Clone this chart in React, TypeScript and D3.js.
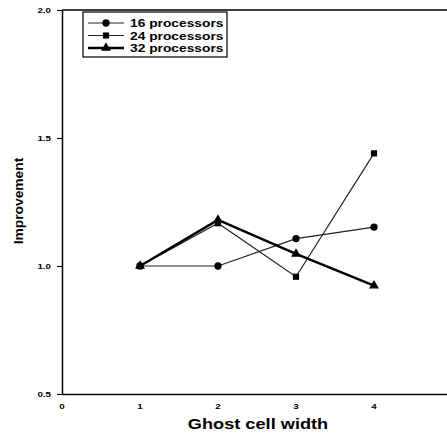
import React, { useEffect, useRef } from 'react';
import * as d3 from 'd3';

const widths = [1, 2, 3, 4];
const p16 = [1.0, 1.0, 1.107, 1.152];
const p24 = [1.0, 1.167, 0.958, 1.44];
const p32 = [1.0, 1.18, 1.047, 0.923];
const seriesNames = ['16 processors', '24 processors', '32 processors'];
const xTicks = [0, 1, 2, 3, 4];
const yTicks = [0.5, 1.0, 1.5, 2.0];

const W = 447;
const H = 436;

export default function App() {
  const ref = useRef<SVGSVGElement>(null);

  useEffect(() => {
    const svg = d3.select(ref.current);
    svg.selectAll('*').remove();
    const font = '"Liberation Sans", Arial, sans-serif';

    const x = d3.scaleLinear().domain([0, 5]).range([62, 452]);
    const y = d3.scaleLinear().domain([0.5, 2.0]).range([394, 10]);

    // stretched bold text, the scan has wide letters
    const label = (g, tx, ty, txt, size, sx, anchor, rot = 0) =>
      g.append('text')
        .attr('transform', `translate(${tx},${ty}) rotate(${rot}) scale(${sx},1)`)
        .attr('text-anchor', anchor).attr('font-family', font)
        .attr('font-weight', 'bold').attr('font-size', size).text(txt);

    svg.append('line').attr('x1', 62).attr('x2', W).attr('y1', y(2.0)).attr('y2', y(2.0))
      .attr('stroke', '#000').attr('stroke-width', 1.5);

    const yAxis = svg.append('g').attr('transform', `translate(${x(0)},0)`)
      .call(d3.axisLeft(y).tickValues(yTicks).tickFormat(() => '').tickSize(5).tickSizeOuter(0));
    yAxis.select('.domain').attr('stroke-width', 1.5);
    yTicks.forEach(t => label(svg, 51, y(t) + 2.5, d3.format('.1f')(t), 7, 1.4, 'end'));

    const xAxis = svg.append('g').attr('transform', `translate(0,${y(0.5)})`)
      .call(d3.axisBottom(x).tickValues(xTicks).tickFormat(() => '').tickSize(0).tickSizeOuter(0));
    xAxis.select('.domain').attr('stroke-width', 1.5);
    xTicks.forEach(t => label(svg, x(t), 409, String(t), 7, 1.4, 'middle'));

    label(svg, 258, 429, 'Ghost cell width', 14, 1.3, 'middle');
    label(svg, 23, 201, 'Improvement', 12, 1.15, 'middle', -90);

    const series = [
      { vals: p16, sym: d3.symbolCircle, lw: 1.2, size: 42, col: '#222' },
      { vals: p24, sym: d3.symbolSquare, lw: 1.2, size: 38, col: '#222' },
      { vals: p32, sym: d3.symbolTriangle, lw: 2.4, size: 42, col: '#000' },
    ];

    const line = d3.line<number>().x((_, i) => x(widths[i])).y(d => y(d));

    series.forEach(s => {
      svg.append('path').datum(s.vals).attr('fill', 'none').attr('stroke', s.col)
        .attr('stroke-width', s.lw).attr('d', line);
      svg.selectAll(null).data(s.vals).enter().append('path')
        .attr('d', d3.symbol().type(s.sym).size(s.size))
        .attr('transform', (d, i) => `translate(${x(widths[i])},${y(d)})`)
        .attr('fill', '#000');
    });

    // legend
    const lg = svg.append('g');
    lg.append('rect').attr('x', 83).attr('y', 12).attr('width', 144).attr('height', 45)
      .attr('fill', '#fff').attr('stroke', '#000').attr('stroke-width', 1.2);
    series.forEach((s, i) => {
      const ly = 23 + i * 12.5;
      lg.append('line').attr('x1', 88).attr('x2', 124).attr('y1', ly).attr('y2', ly)
        .attr('stroke', s.col).attr('stroke-width', s.lw);
      lg.append('path').attr('d', d3.symbol().type(s.sym).size(s.size)())
        .attr('transform', `translate(106,${ly})`).attr('fill', '#000');
      label(lg, 130, ly + 4, seriesNames[i], 11.5, 1.2, 'start');
    });
  }, []);

  return (
    <div style={{ position: 'absolute', left: 0, top: 0 }}>
      <svg ref={ref} width={W} height={H} style={{ display: 'block', background: '#fff' }} />
    </div>
  );
}
